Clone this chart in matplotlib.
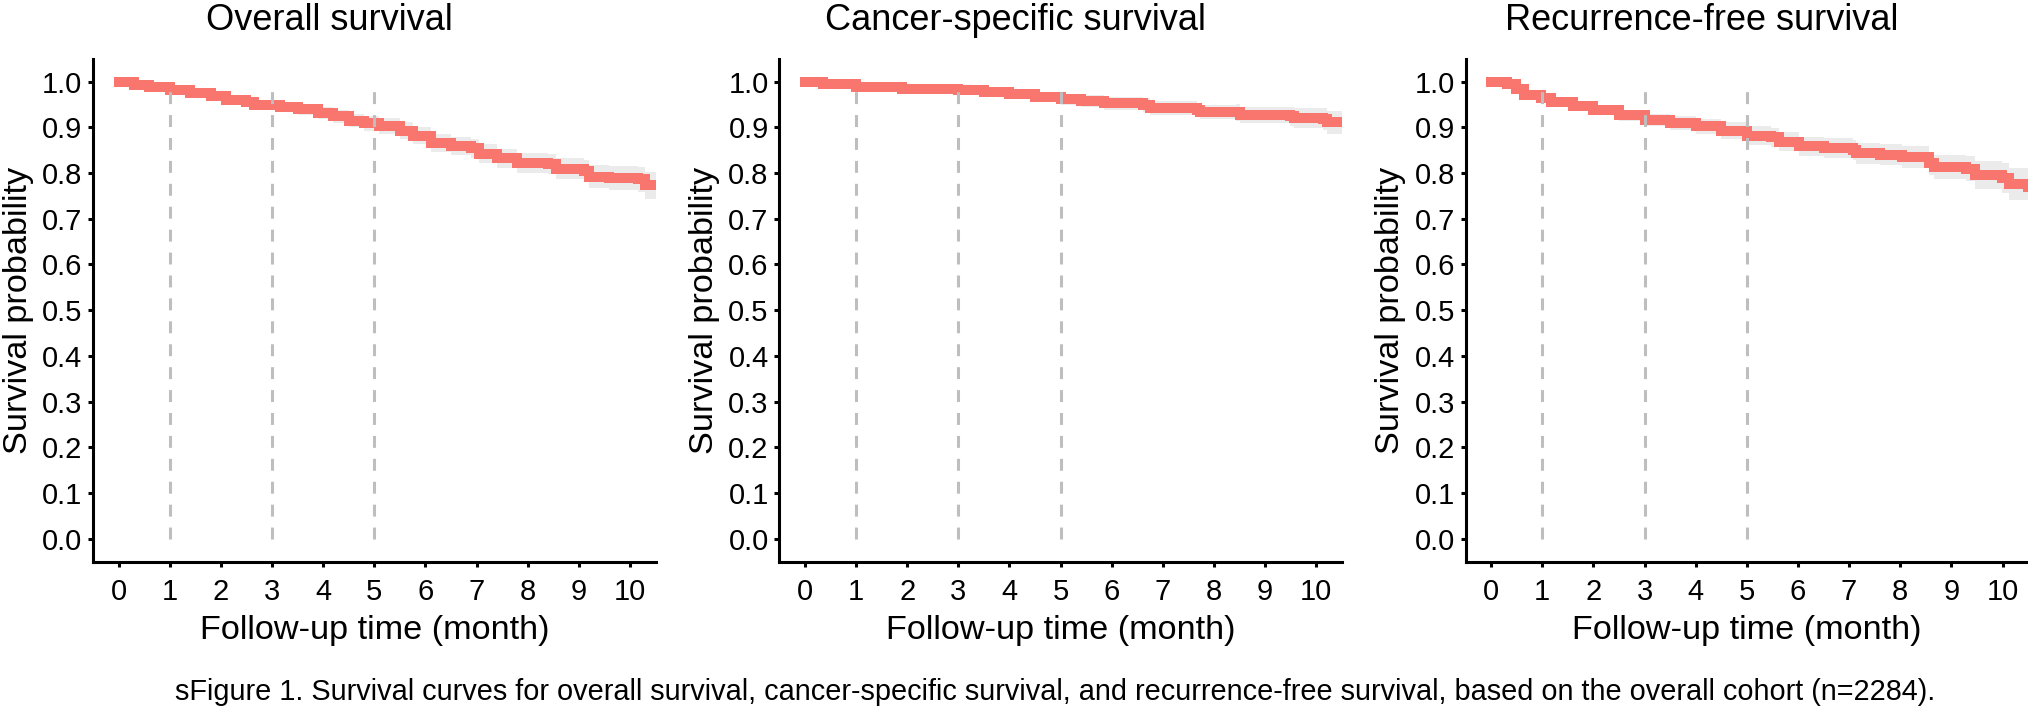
import matplotlib
matplotlib.use("Agg")
import matplotlib.pyplot as plt
import numpy as np

plt.rcParams['font.family'] = ['Liberation Sans', 'DejaVu Sans']

# ---- data (time in month, survival probability) ----
titles = ["Overall survival", "Cancer-specific survival", "Recurrence-free survival"]
caption = ("sFigure 1. Survival curves for overall survival, cancer-specific survival, "
           "and recurrence-free survival, based on the overall cohort (n=2284).")

os_time = [0, 0.3, 0.6, 1.0, 1.4, 1.8, 2.1, 2.5, 2.65, 3.15, 3.5, 3.9, 4.2, 4.5, 4.8,
           5.1, 5.5, 5.75, 6.1, 6.5, 6.9, 7.05, 7.4, 7.8, 8.4, 8.55, 9.1, 9.2, 9.6,
           10.15, 10.3, 10.5]
os_surv = [1.0, 0.993, 0.988, 0.981, 0.975, 0.968, 0.960, 0.956, 0.949, 0.944, 0.940,
           0.932, 0.924, 0.915, 0.909, 0.903, 0.893, 0.882, 0.866, 0.860, 0.854, 0.842,
           0.832, 0.822, 0.820, 0.810, 0.805, 0.792, 0.790, 0.786, 0.773, 0.773]
os_ci = [0, 0.002, 0.004, 0.005, 0.006, 0.007, 0.008, 0.009, 0.010, 0.011, 0.012,
         0.013, 0.014, 0.015, 0.016, 0.017, 0.018, 0.018, 0.019, 0.020, 0.020, 0.021,
         0.021, 0.022, 0.022, 0.023, 0.024, 0.025, 0.026, 0.027, 0.030, 0.030]

css_time = [0, 0.35, 1.0, 1.9, 3.0, 3.5, 4.0, 4.5, 5.0, 5.4, 5.84, 6.62, 6.75, 7.66,
            7.73, 8.44, 8.51, 9.49, 9.56, 10.14, 10.21, 10.5]
css_surv = [1.0, 0.994, 0.989, 0.983, 0.981, 0.978, 0.972, 0.966, 0.962, 0.957, 0.953,
            0.949, 0.942, 0.938, 0.934, 0.933, 0.927, 0.924, 0.920, 0.918, 0.911, 0.911]
css_ci = [0, 0.002, 0.003, 0.005, 0.006, 0.007, 0.008, 0.010, 0.012, 0.013, 0.014,
          0.015, 0.015, 0.016, 0.016, 0.018, 0.018, 0.021, 0.022, 0.024, 0.025, 0.025]

rfs_time = [0, 0.3, 0.48, 0.64, 0.97, 1.17, 1.6, 2.0, 2.5, 3.0, 3.5, 4.0, 4.5, 5.0,
            5.47, 5.63, 6.02, 6.5, 7.07, 7.13, 7.6, 8.04, 8.56, 8.66, 9.28, 9.47, 9.99,
            10.12, 10.5]
rfs_surv = [1.0, 0.994, 0.984, 0.971, 0.964, 0.955, 0.946, 0.938, 0.927, 0.916, 0.909,
            0.902, 0.893, 0.882, 0.878, 0.869, 0.859, 0.855, 0.851, 0.843, 0.840, 0.836,
            0.821, 0.813, 0.810, 0.796, 0.789, 0.776, 0.770]
rfs_ci = [0, 0.003, 0.004, 0.006, 0.008, 0.009, 0.010, 0.011, 0.012, 0.013, 0.015,
          0.016, 0.018, 0.020, 0.020, 0.021, 0.021, 0.022, 0.022, 0.023, 0.023, 0.024,
          0.025, 0.026, 0.028, 0.030, 0.032, 0.035, 0.037]

landmarks = [1, 3, 5]
x_ticks = list(range(0, 11))
y_ticks = [i / 10 for i in range(0, 11)]

curves = [(os_time, os_surv, os_ci), (css_time, css_surv, css_ci), (rfs_time, rfs_surv, rfs_ci)]

W, H = 2028, 709
fig = plt.figure(figsize=(W / 100, H / 100), dpi=100)

red = '#F8766D'
lefts = [93, 779.3, 1465.6]
for k, (t, s, ci) in enumerate(curves):
    ax = fig.add_axes([lefts[k] / W, 1 - 561.5 / H, 562.5 / W, (561.5 - 58.85) / H])
    t = np.array(t); s = np.array(s); ci = np.array(ci)
    ax.fill_between(t, s - ci, s + ci, step='post', color='#EBEBEB', lw=0, zorder=1)
    ax.step(t, s, where='post', color=red, lw=7.2, solid_joinstyle='miter', zorder=2)
    for lm in landmarks:
        ax.plot([lm, lm], [0, 0.99], color='#BEBEBE', lw=2.2, dashes=(3.9, 3.6), zorder=3)
    ax.set_xlim(-0.5, 10.5)
    ax.set_ylim(-0.05, 1.05)
    ax.set_xticks(x_ticks)
    ax.set_yticks(y_ticks)
    ax.set_yticklabels([f"{v:.1f}" for v in y_ticks])
    for side in ['top', 'right']:
        ax.spines[side].set_visible(False)
    for side in ['left', 'bottom']:
        ax.spines[side].set_linewidth(2.2)
        ax.spines[side].set_color('black')
    ax.tick_params(axis='both', length=3.6, width=2.2, labelsize=21, colors='black')
    ax.tick_params(axis='y', pad=4)
    ax.tick_params(axis='x', pad=8.5)
    ax.set_xlabel("Follow-up time (month)", fontsize=24.7, labelpad=6)
    ax.set_ylabel("Survival probability", fontsize=24.7, labelpad=6)
    cx = (lefts[k] + 562.5 / 2 - 45) / W
    fig.text(cx, 1 - 30 / H, titles[k], fontsize=26, ha='center', va='baseline')

fig.text(175 / W, 1 - 692 / H, caption, fontsize=20.8, ha='left', va='center')

fig.savefig("out.png", dpi=100)
